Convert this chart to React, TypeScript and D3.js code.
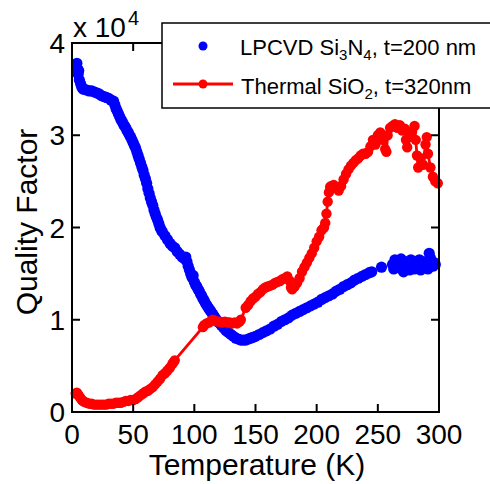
import React from "react";
import * as d3 from "d3";

// LPCVD Si3N4, t=200 nm : [Temperature (K), Q / 1e4]
const nitrideData: [number, number][] = [
  [4, 3.78], [4.5, 3.72], [5, 3.66], [5.5, 3.7], [6, 3.6], [7, 3.56], [8, 3.52], [9, 3.5],
  [10, 3.5], [12, 3.49], [14, 3.48], [16, 3.48], [18, 3.47], [20, 3.46], [22, 3.45], [24, 3.43],
  [26, 3.42], [28, 3.41], [30, 3.4], [32, 3.38], [34, 3.37], [35, 3.33], [36, 3.29], [37, 3.26],
  [38, 3.23], [39, 3.2], [40, 3.17], [41, 3.15], [42, 3.12], [43, 3.1], [44, 3.08], [45, 3.05],
  [46, 3.03], [47, 3.0], [48, 2.98], [49, 2.95], [50, 2.92], [51, 2.89], [52, 2.86], [53, 2.82],
  [54, 2.78], [55, 2.74], [56, 2.7], [57, 2.66], [58, 2.62], [59, 2.57], [60, 2.53], [61, 2.48],
  [62, 2.42], [63, 2.37], [64, 2.32], [65, 2.28], [66, 2.24], [67, 2.19], [68, 2.15], [69, 2.11],
  [70, 2.08], [71, 2.04], [72, 2.0], [73, 1.97], [74, 1.95], [76, 1.91], [78, 1.87], [80, 1.83],
  [82, 1.8], [84, 1.78], [86, 1.74], [88, 1.71], [90, 1.68], [92, 1.66], [93, 1.68], [94, 1.63],
  [95, 1.58], [96, 1.54], [97, 1.5], [98, 1.46], [99, 1.48], [100, 1.41], [101, 1.38], [102, 1.36],
  [103, 1.33], [104, 1.31], [105, 1.28], [106, 1.26], [107, 1.23], [108, 1.21], [109, 1.18],
  [110, 1.16], [111, 1.14], [112, 1.12], [113, 1.1], [114, 1.08], [115, 1.06], [116, 1.04],
  [117, 1.02], [118, 1.0], [119, 0.98], [120, 0.97], [122, 0.94], [124, 0.91], [126, 0.88],
  [128, 0.86], [130, 0.84], [132, 0.82], [134, 0.8], [136, 0.79], [138, 0.78], [140, 0.78],
  [142, 0.78], [144, 0.79], [146, 0.8], [148, 0.81], [150, 0.82], [153, 0.84], [156, 0.86],
  [159, 0.88], [162, 0.9], [165, 0.93], [168, 0.95], [171, 0.98], [174, 1.0], [177, 1.02],
  [180, 1.05], [183, 1.07], [186, 1.09], [189, 1.11], [192, 1.13], [195, 1.15], [198, 1.17],
  [201, 1.19], [204, 1.22], [207, 1.24], [210, 1.26], [213, 1.28], [216, 1.31], [219, 1.33],
  [222, 1.36], [225, 1.38], [228, 1.4], [231, 1.43], [234, 1.45], [237, 1.47], [240, 1.49],
  [243, 1.51], [245, 1.52], [253, 1.57],
  [262, 1.6], [263, 1.55], [264, 1.65], [265, 1.58], [266, 1.62], [268, 1.56], [269, 1.66],
  [270, 1.6], [271, 1.52], [272, 1.63], [274, 1.57], [275, 1.6], [276, 1.54], [277, 1.65],
  [279, 1.6], [280, 1.55], [281, 1.62], [283, 1.58], [284, 1.65], [285, 1.54], [286, 1.6],
  [288, 1.57], [289, 1.63], [290, 1.6], [291, 1.55], [292, 1.72], [293, 1.67], [294, 1.6],
  [295, 1.58], [296, 1.62], [297, 1.6],
];

// Thermal SiO2, t=320nm : [Temperature (K), Q / 1e4]
const oxideData: [number, number][] = [
  [3, 0.2], [4, 0.21], [5, 0.19], [6, 0.17], [7, 0.15], [8, 0.13], [9, 0.12], [10, 0.11],
  [12, 0.1], [14, 0.09], [16, 0.09], [18, 0.08], [20, 0.08], [22, 0.08], [24, 0.08], [26, 0.08],
  [28, 0.08], [30, 0.09], [32, 0.09], [34, 0.09], [36, 0.1], [38, 0.1], [40, 0.1], [42, 0.11],
  [44, 0.12], [46, 0.12], [48, 0.13], [50, 0.13], [52, 0.14], [54, 0.16], [56, 0.18], [58, 0.2],
  [60, 0.22], [62, 0.23], [64, 0.25], [66, 0.27], [68, 0.3], [70, 0.33], [72, 0.36], [74, 0.4],
  [76, 0.42], [78, 0.45], [80, 0.48], [82, 0.52], [83, 0.54], [84, 0.56],
  [107, 0.92], [108, 0.94], [110, 0.96], [112, 0.97], [114, 0.99], [115, 1.0], [117, 0.99],
  [119, 0.98], [121, 0.98], [123, 0.97], [125, 0.98], [127, 0.97], [129, 0.97], [131, 0.96],
  [133, 0.97], [135, 0.96], [137, 0.98], [138, 1.0],
  [142, 1.13], [144, 1.16], [146, 1.2], [148, 1.23], [150, 1.25], [152, 1.28], [154, 1.3],
  [156, 1.33], [158, 1.35], [160, 1.36], [162, 1.37], [164, 1.38], [166, 1.4], [168, 1.41],
  [170, 1.42], [172, 1.44], [174, 1.45], [176, 1.47], [178, 1.42], [179, 1.35], [180, 1.33],
  [182, 1.36], [184, 1.4], [186, 1.45], [188, 1.52], [190, 1.57], [192, 1.62], [194, 1.67],
  [196, 1.72], [198, 1.78], [200, 1.85], [202, 1.9], [204, 1.97], [206, 2.0], [207, 2.05],
  [208, 2.15], [209, 2.28], [210, 2.38], [211, 2.44], [212, 2.45], [214, 2.46], [216, 2.43],
  [218, 2.4], [220, 2.45], [222, 2.52], [224, 2.58], [226, 2.63], [228, 2.67], [230, 2.7],
  [232, 2.73], [234, 2.75], [236, 2.78], [238, 2.8], [240, 2.8], [242, 2.82], [244, 2.88],
  [246, 2.95], [248, 2.9], [250, 3.0], [252, 3.03], [254, 2.95], [256, 2.85], [257, 2.82],
  [258, 3.0], [260, 3.08], [262, 3.1], [264, 3.12], [266, 3.08], [268, 3.11], [270, 3.05],
  [272, 3.07], [273, 2.95], [274, 2.87], [276, 2.98], [278, 3.04], [280, 3.1], [281, 2.95],
  [282, 2.78], [283, 2.65], [285, 2.75], [287, 2.68], [289, 2.9], [290, 2.98], [291, 2.8],
  [293, 2.65], [295, 2.55], [297, 2.5], [299, 2.48],
];

const xTicks = [0, 50, 100, 150, 200, 250, 300];
const yTicks = [0, 1, 2, 3, 4];

const FONT = "'Liberation Sans', Arial, Helvetica, sans-serif";

export default function App() {
  const left = 72, right = 439, top = 43, bottom = 412;
  const x = d3.scaleLinear().domain([0, 300]).range([left, right]);
  const y = d3.scaleLinear().domain([0, 4]).range([bottom, top]);
  const line = d3
    .line<[number, number]>()
    .x((d) => x(d[0]))
    .y((d) => y(d[1]));
  const tickLen = 8;

  return (
    <svg
      width={490}
      height={484}
      style={{ position: "absolute", left: 0, top: 0, display: "block", background: "#fff" }}
      fontFamily={FONT}
    >
      <rect x={0} y={0} width={490} height={484} fill="#fff" />
      {/* blue markers */}
      <g fill="#0000ff">
        {nitrideData.map((d, i) => (
          <circle key={i} cx={x(d[0])} cy={y(d[1])} r={5.6} />
        ))}
      </g>
      {/* red line + markers */}
      <path d={line(oxideData) || ""} fill="none" stroke="#ff0000" strokeWidth={2.8} />
      <g fill="#ff0000">
        {oxideData.map((d, i) => (
          <circle key={i} cx={x(d[0])} cy={y(d[1])} r={5.2} />
        ))}
      </g>

      {/* axes box */}
      <rect x={left} y={top} width={right - left} height={bottom - top} fill="none" stroke="#000" strokeWidth={2} />
      {xTicks.map((t) => (
        <g key={"x" + t}>
          <line x1={x(t)} x2={x(t)} y1={bottom} y2={bottom - tickLen} stroke="#000" strokeWidth={2} />
          <line x1={x(t)} x2={x(t)} y1={top} y2={top + tickLen} stroke="#000" strokeWidth={2} />
          <text x={x(t)} y={444} fontSize={28} textAnchor="middle" fill="#000">
            {t}
          </text>
        </g>
      ))}
      {yTicks.map((t) => (
        <g key={"y" + t}>
          <line x1={left} x2={left + tickLen} y1={y(t)} y2={y(t)} stroke="#000" strokeWidth={2} />
          <line x1={right} x2={right - tickLen} y1={y(t)} y2={y(t)} stroke="#000" strokeWidth={2} />
          <text x={65} y={y(t)} dy="0.36em" fontSize={28} textAnchor="end" fill="#000">
            {t}
          </text>
        </g>
      ))}

      {/* exponent label */}
      <text x={73} y={37} fontSize={28} fill="#000">
        x 10
      </text>
      <text x={128} y={25} fontSize={20} fill="#000">
        4
      </text>

      {/* axis titles */}
      <text x={257} y={475} fontSize={30} textAnchor="middle" fill="#000">
        Temperature (K)
      </text>
      <text
        transform={`translate(37,222) rotate(-90)`}
        fontSize={30}
        textAnchor="middle"
        fill="#000"
      >
        Quality Factor
      </text>

      {/* legend */}
      <rect x={162} y={23} width={340} height={85} fill="#fff" stroke="#000" strokeWidth={1.5} />
      <circle cx={203} cy={46} r={4.5} fill="#0000ff" />
      <text x={240} y={55} fontSize={22} fill="#000">
        LPCVD Si
        <tspan fontSize={15} dy={5}>3</tspan>
        <tspan dy={-5}>N</tspan>
        <tspan fontSize={15} dy={5}>4</tspan>
        <tspan dy={-5}>, t=200 nm</tspan>
      </text>
      <line x1={173} x2={233} y1={84} y2={84} stroke="#ff0000" strokeWidth={3} />
      <circle cx={203} cy={84} r={4.5} fill="#ff0000" />
      <text x={241} y={94} fontSize={22} fill="#000">
        Thermal SiO
        <tspan fontSize={15} dy={5}>2</tspan>
        <tspan dy={-5}>, t=320nm</tspan>
      </text>
    </svg>
  );
}
